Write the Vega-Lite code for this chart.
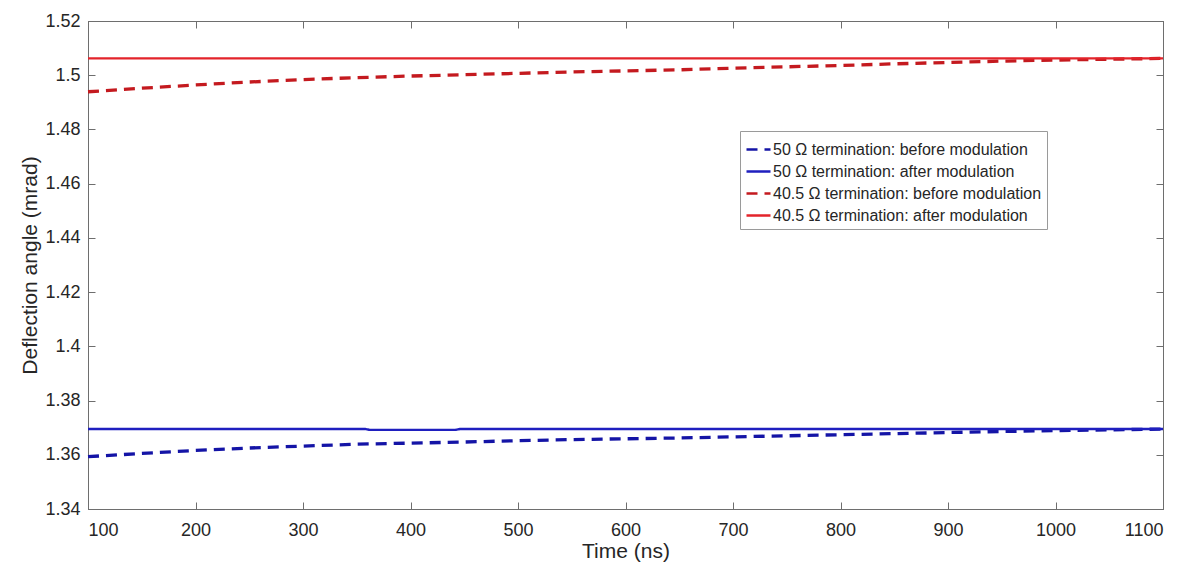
{
  "$schema": "https://vega.github.io/schema/vega-lite/v6.json",
  "width": 1075,
  "height": 488,
  "autosize": {"type": "none"},
  "padding": {"left": 88, "top": 21, "right": 23, "bottom": 60},
  "background": "white",
  "config": {
    "font": "Liberation Sans",
    "view": {"stroke": "#6e6e6e", "strokeWidth": 1},
    "axis": {
      "grid": false,
      "domainColor": "#6e6e6e",
      "tickColor": "#6e6e6e",
      "tickSize": -7,
      "labelColor": "#262626",
      "titleColor": "#262626",
      "labelFont": "Liberation Sans",
      "titleFont": "Liberation Sans",
      "labelFontSize": 18,
      "titleFontSize": 21,
      "titleFontWeight": "normal"
    }
  },
  "data": {
    "values": [
      {"series": "50 Ω termination: before modulation", "t": 100, "v": 1.3593},
      {"series": "50 Ω termination: before modulation", "t": 150, "v": 1.3605},
      {"series": "50 Ω termination: before modulation", "t": 200, "v": 1.3616},
      {"series": "50 Ω termination: before modulation", "t": 250, "v": 1.3625},
      {"series": "50 Ω termination: before modulation", "t": 300, "v": 1.3632},
      {"series": "50 Ω termination: before modulation", "t": 350, "v": 1.3639},
      {"series": "50 Ω termination: before modulation", "t": 400, "v": 1.3643},
      {"series": "50 Ω termination: before modulation", "t": 450, "v": 1.3647},
      {"series": "50 Ω termination: before modulation", "t": 500, "v": 1.3652},
      {"series": "50 Ω termination: before modulation", "t": 550, "v": 1.3656},
      {"series": "50 Ω termination: before modulation", "t": 600, "v": 1.3659},
      {"series": "50 Ω termination: before modulation", "t": 650, "v": 1.3662},
      {"series": "50 Ω termination: before modulation", "t": 700, "v": 1.3666},
      {"series": "50 Ω termination: before modulation", "t": 750, "v": 1.367},
      {"series": "50 Ω termination: before modulation", "t": 800, "v": 1.3674},
      {"series": "50 Ω termination: before modulation", "t": 850, "v": 1.3678},
      {"series": "50 Ω termination: before modulation", "t": 900, "v": 1.3682},
      {"series": "50 Ω termination: before modulation", "t": 950, "v": 1.3686},
      {"series": "50 Ω termination: before modulation", "t": 1000, "v": 1.3689},
      {"series": "50 Ω termination: before modulation", "t": 1050, "v": 1.3692},
      {"series": "50 Ω termination: before modulation", "t": 1100, "v": 1.3695},
      {"series": "50 Ω termination: after modulation", "t": 100, "v": 1.3695},
      {"series": "50 Ω termination: after modulation", "t": 358, "v": 1.3695},
      {"series": "50 Ω termination: after modulation", "t": 362, "v": 1.3692},
      {"series": "50 Ω termination: after modulation", "t": 442, "v": 1.3692},
      {"series": "50 Ω termination: after modulation", "t": 446, "v": 1.3695},
      {"series": "50 Ω termination: after modulation", "t": 1100, "v": 1.3695},
      {"series": "40.5 Ω termination: before modulation", "t": 100, "v": 1.4939},
      {"series": "40.5 Ω termination: before modulation", "t": 150, "v": 1.4952},
      {"series": "40.5 Ω termination: before modulation", "t": 200, "v": 1.4964},
      {"series": "40.5 Ω termination: before modulation", "t": 250, "v": 1.4975},
      {"series": "40.5 Ω termination: before modulation", "t": 300, "v": 1.4984},
      {"series": "40.5 Ω termination: before modulation", "t": 350, "v": 1.4991},
      {"series": "40.5 Ω termination: before modulation", "t": 400, "v": 1.4997},
      {"series": "40.5 Ω termination: before modulation", "t": 450, "v": 1.5002},
      {"series": "40.5 Ω termination: before modulation", "t": 500, "v": 1.5007},
      {"series": "40.5 Ω termination: before modulation", "t": 550, "v": 1.5012},
      {"series": "40.5 Ω termination: before modulation", "t": 600, "v": 1.5016},
      {"series": "40.5 Ω termination: before modulation", "t": 650, "v": 1.502},
      {"series": "40.5 Ω termination: before modulation", "t": 700, "v": 1.5026},
      {"series": "40.5 Ω termination: before modulation", "t": 750, "v": 1.5031},
      {"series": "40.5 Ω termination: before modulation", "t": 800, "v": 1.5036},
      {"series": "40.5 Ω termination: before modulation", "t": 850, "v": 1.5042},
      {"series": "40.5 Ω termination: before modulation", "t": 900, "v": 1.5047},
      {"series": "40.5 Ω termination: before modulation", "t": 950, "v": 1.5052},
      {"series": "40.5 Ω termination: before modulation", "t": 1000, "v": 1.5056},
      {"series": "40.5 Ω termination: before modulation", "t": 1050, "v": 1.5059},
      {"series": "40.5 Ω termination: before modulation", "t": 1100, "v": 1.5062},
      {"series": "40.5 Ω termination: after modulation", "t": 100, "v": 1.5062},
      {"series": "40.5 Ω termination: after modulation", "t": 1100, "v": 1.5062}
    ]
  },
  "layer": [
    {
      "mark": {"type": "line", "strokeCap": "butt"},
      "encoding": {
        "x": {
          "field": "t",
          "type": "quantitative",
          "scale": {"domain": [100, 1100], "nice": false, "zero": false},
          "axis": {"values": [100, 200, 300, 400, 500, 600, 700, 800, 900, 1000, 1100], "title": "Time (ns)", "labelPadding": 19, "titlePadding": 1, "format": "d"}
        },
        "y": {
          "field": "v",
          "type": "quantitative",
          "scale": {"domain": [1.34, 1.52], "nice": false, "zero": false},
          "axis": {"values": [1.34, 1.36, 1.38, 1.4, 1.42, 1.44, 1.46, 1.48, 1.5, 1.52], "format": ".2~f", "title": "Deflection angle (mrad)", "labelPadding": 15, "titlePadding": 4}
        },
        "color": {
          "field": "series",
          "type": "nominal",
          "scale": {
            "domain": ["50 Ω termination: before modulation", "50 Ω termination: after modulation", "40.5 Ω termination: before modulation", "40.5 Ω termination: after modulation"],
            "range": ["#1414a6", "#1f1fbf", "#c41a1f", "#e3242b"]
          },
          "legend": {
            "title": null,
            "orient": "none",
            "legendX": 652,
            "legendY": 110,
            "strokeColor": "#9a9a9a",
            "fillColor": "white",
            "padding": 5,
            "labelFontSize": 16,
            "labelColor": "#262626",
            "labelFont": "Liberation Sans",
            "symbolType": "stroke",
            "symbolSize": 576,
            "symbolStrokeWidth": 2.6,
            "rowPadding": -7,
            "labelOffset": 1,
            "labelLimit": 400
          }
        },
        "strokeDash": {
          "field": "series",
          "type": "nominal",
          "scale": {
            "domain": ["50 Ω termination: before modulation", "50 Ω termination: after modulation", "40.5 Ω termination: before modulation", "40.5 Ω termination: after modulation"],
            "range": [[11, 7], [1, 0], [11, 7], [1, 0]]
          }
        },
        "strokeWidth": {
          "condition": {"test": "indexof(datum.series, 'before') >= 0", "value": 3.3},
          "value": 2.4
        }
      }
    },
    {
      "mark": {"type": "line", "opacity": 0},
      "encoding": {
        "x": {
          "field": "t",
          "type": "quantitative",
          "scale": {"domain": [100, 1100], "nice": false, "zero": false},
          "axis": {"orient": "top", "values": [100, 200, 300, 400, 500, 600, 700, 800, 900, 1000, 1100], "labels": false, "title": null}
        },
        "y": {
          "field": "v",
          "type": "quantitative",
          "scale": {"domain": [1.34, 1.52], "nice": false, "zero": false},
          "axis": {"orient": "right", "values": [1.34, 1.36, 1.38, 1.4, 1.42, 1.44, 1.46, 1.48, 1.5, 1.52], "labels": false, "title": null}
        },
        "detail": {"field": "series", "type": "nominal"}
      }
    }
  ],
  "resolve": {"axis": {"x": "independent", "y": "independent"}}
}
